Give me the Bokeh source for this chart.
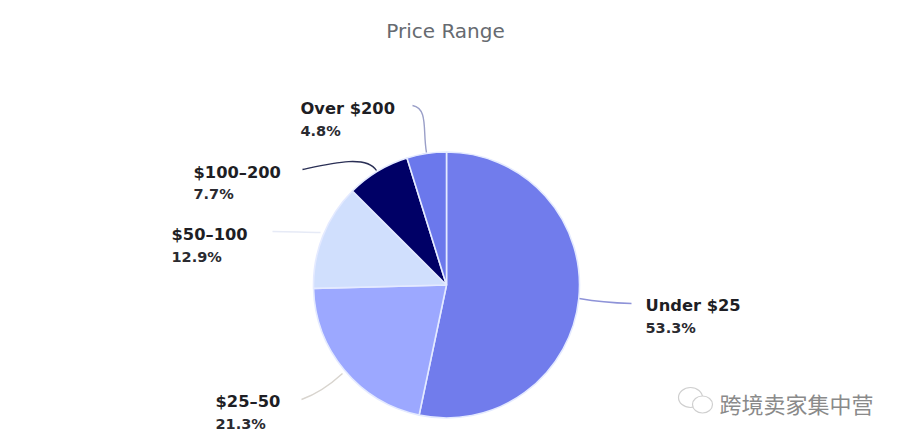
import math
from bokeh.plotting import figure
from bokeh.models import Range1d
from bokeh.core.properties import value
from bokeh.embed import file_html
from bokeh.resources import INLINE

# Data
categories = ["Under $25", "$25–50", "$50–100", "$100–200", "Over $200"]
shares = [53.3, 21.3, 12.9, 7.7, 4.8]
colors = ["#717CEC", "#9CA8FF", "#D0DFFD", "#000066", "#6B78EC"]
title_text = "Price Range"
watermark_text = "跨境卖家集中营"

# Layout, in page pixels
W, H = 902, 442
def Y(py):
    return H - py

cx, cy, r = 446, 284.5, 133
label_pos = [(645, 305), (215, 401), (171, 234), (193, 172), (300, 108)]
pct_pos = [(645, 327), (215, 423), (171, 256), (193, 193), (300, 130)]
conn_col = ["#8E93D8", "#D8D4CE", "#E6EAF6", "#2A2F55", "#9A9FC8"]
connectors = [
    (631, 303, 600, 302, 590, 300, 579, 298),
    (301, 399, 315, 394, 330, 384, 342, 373),
    (272, 231, 290, 231, 305, 232, 320, 232),
    (302, 169, 330, 163, 366, 154, 376, 170),
    (412, 105, 428, 108, 422, 130, 426, 152),
]

p = figure(width=W, height=H, output_backend="svg", toolbar_location=None,
           x_range=Range1d(0, W), y_range=Range1d(0, H),
           min_border=0, outline_line_color=None)
p.axis.visible = False
p.grid.visible = False

total = sum(shares)
a = math.pi / 2
for s, c in zip(shares, colors):
    b = a - s / total * 2 * math.pi
    p.wedge(x=cx, y=Y(cy), radius=r, start_angle=b, end_angle=a,
            fill_color=c, line_color="#E4EAFF", line_width=1.6)
    a = b

for (x0, y0, x1, y1, x2, y2, x3, y3), c in zip(connectors, conn_col):
    p.bezier(x0=[x0], y0=[Y(y0)], cx0=[x1], cy0=[Y(y1)], cx1=[x2], cy1=[Y(y2)],
             x1=[x3], y1=[Y(y3)], line_color=c, line_width=1.4)

lab_font = value("DejaVu Sans")
for cat, s, lp, pp in zip(categories, shares, label_pos, pct_pos):
    p.text(x=[lp[0]], y=[Y(lp[1])], text=[cat], text_font=lab_font, text_font_size="16.3px",
           text_font_style="bold", text_color="#1E1E24", text_baseline="middle", text_align="left")
    p.text(x=[pp[0]], y=[Y(pp[1])], text=[f"{s}%"], text_font=lab_font, text_font_size="14.5px",
           text_font_style="bold", text_color="#2A2A30", text_baseline="middle", text_align="left")

p.text(x=[445], y=[Y(30)], text=[title_text], text_font=value("DejaVu Sans"), text_font_size="20px",
       text_color="#666A70", text_baseline="middle", text_align="center")

# WeChat-style watermark
p.ellipse(x=[690], y=[Y(397)], width=[24], height=[20], fill_color="#FFFFFF",
          line_color="#CFCFCF", line_width=1.2)
p.ellipse(x=[702], y=[Y(404)], width=[20], height=[17], fill_color="#FFFFFF",
          line_color="#CFCFCF", line_width=1.2)
p.text(x=[719], y=[Y(402)], text=[watermark_text], text_font=value("Noto Sans CJK SC"),
       text_font_size="22px", text_color="#8A8A8A", text_baseline="middle", text_align="left")

open("out.html", "w").write(file_html(p, INLINE))
